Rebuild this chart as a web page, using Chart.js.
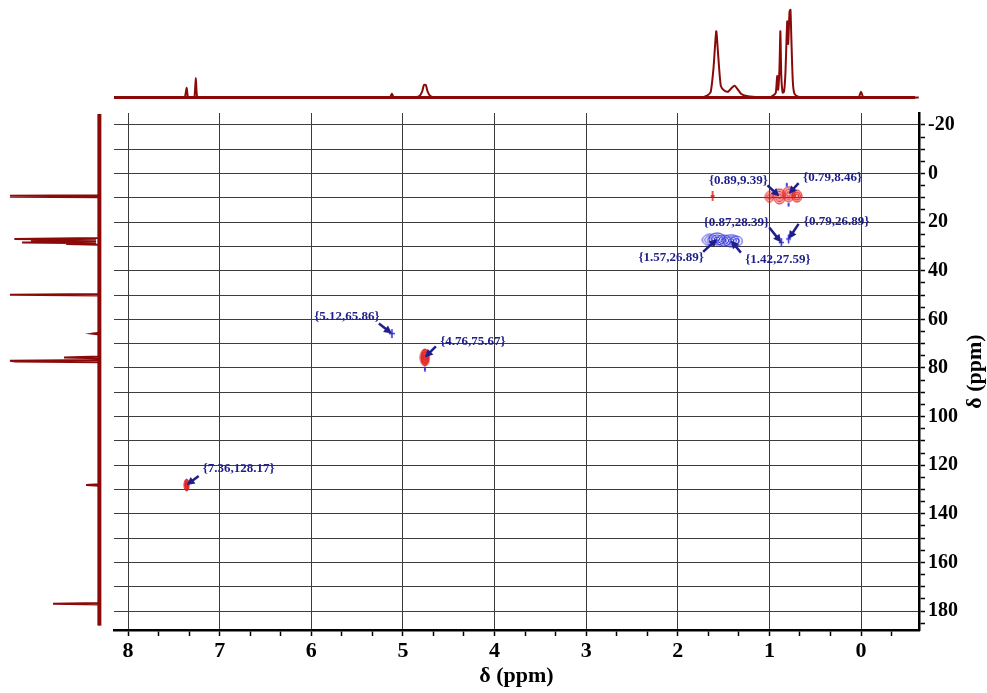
<!DOCTYPE html>
<html>
<head>
<meta charset="utf-8">
<script src="https://cdn.jsdelivr.net/npm/chart.js@4.4.1/dist/chart.umd.min.js"></script>
<style>
  html, body { margin: 0; padding: 0; background: #fff; }
  #wrap { position: relative; width: 987px; height: 693px; overflow: hidden; }
  canvas { position: absolute; }
  #hsqc { left: 0; top: 0; }
  #proj1h { left: 114px; top: 0; }
  #proj13c { left: 0; top: 113px; }
</style>
</head>
<body>
<div id="wrap">
  <canvas id="hsqc" width="987" height="693"></canvas>
  <canvas id="proj1h" width="805" height="100"></canvas>
  <canvas id="proj13c" width="106" height="517"></canvas>
</div>
<script>
// 1H projection (top trace)
const hShift = [8.15, 7.42, 7.38, 7.36, 7.345, 7.3, 7.275, 7.26, 7.245, 7.2,
  5.2, 5.14, 5.12, 5.1, 5.0,
  4.88, 4.82, 4.79, 4.77, 4.75, 4.73, 4.7, 4.64,
  1.75, 1.68, 1.64, 1.61, 1.58, 1.56, 1.53, 1.49, 1.45, 1.41, 1.38, 1.35, 1.31, 1.25, 1.15, 1.0,
  0.96, 0.93, 0.915, 0.905, 0.89, 0.88, 0.87, 0.855, 0.84, 0.825, 0.805, 0.795, 0.78, 0.77, 0.76, 0.745, 0.73, 0.7, 0.62,
  0.03, 0.0, -0.03, -0.63];
const hIntensity = [0, 0, 0.5, 10, 0.5, 0, 0.5, 20, 0.5, 0,
  0, 0.3, 4, 0.3, 0,
  0, 1.5, 6, 13, 13, 6, 1.5, 0,
  0, 2, 6, 30, 68, 45, 12, 7, 6, 10, 12, 9, 4, 1.5, 0.5, 0,
  2, 5, 22, 8, 30, 68, 22, 5, 6, 25, 78, 55, 88, 90, 60, 18, 5, 1.5, 0,
  0, 6, 0, 0];

// 13C projection (left trace)
const cShift = [-24.5, 8.9, 9.15, 9.35, 9.55, 9.8,
  26.5, 26.89, 27.2, 27.59, 27.9, 28.39, 28.7, 29.0, 29.3,
  49.6, 49.9, 50.2,
  65.5, 65.86, 66.2,
  75.3, 75.67, 76.0, 76.7, 77.0, 77.3, 77.6,
  127.8, 128.17, 128.5,
  176.7, 177.0, 177.3, 186];
const cIntensity = [0, 0, 81, 2, 81, 0,
  0, 77, 3, 62, 3, 70, 3, 30, 0,
  0, 81, 0,
  0, 6, 0,
  0, 32, 2, 2, 81, 76, 0,
  0, 12, 0,
  0, 42, 0, 0];

// labelled cross peaks {1H, 13C}
const peakH = [0.89, 0.79, 0.87, 0.79, 1.57, 1.42, 5.12, 4.76, 7.36];
const peakC = [9.39, 8.46, 28.39, 26.89, 26.89, 27.59, 65.86, 75.67, 128.17];

// contour centres, positive phase (CH / CH3)
const redH = [1.62, 1.0, 0.89, 0.79, 0.7, 4.76, 7.36];
const redC = [9.2, 9.6, 9.39, 8.46, 9.3, 75.67, 128.17];
// contour centres, negative phase (CH2)
const blueH = [1.65, 1.57, 1.5, 1.42, 1.36, 0.87, 0.79, 5.12, 4.76, 0.81, 0.79];
const blueC = [27.3, 26.89, 27.6, 27.59, 27.8, 28.39, 26.89, 65.86, 80.5, 4.6, 12.8];

// axis labels
const hTicks = [8, 7, 6, 5, 4, 3, 2, 1, 0];
const cTicks = [-20, 0, 20, 40, 60, 80, 100, 120, 140, 160, 180];

const H_MIN = -0.633;
const H_MAX = 8.153;
const C_MIN = -24.9;
const C_MAX = 187.8;

const SERIF = '"Liberation Serif", "Times New Roman", serif';
const NAVY = "#1f1f8c";
const TRACE = "#8a0a0a";

// contour marker shapes: [width, height, rings, fill]
const redShapes = [
  ["plus", 4, 10],
  [8, 11, 2, "rgba(235,60,60,0.35)"],
  [12, 15, 3, "rgba(235,60,60,0.35)"],
  [12, 15, 3, "rgba(235,60,60,0.35)"],
  [10, 12, 3, "rgba(235,60,60,0.35)"],
  [9, 17, 3, "rgba(225,30,30,0.85)"],
  [5, 12, 2, "rgba(225,30,30,0.9)"],
];
const blueShapes = [
  [15, 11, 3, null],
  [16, 12, 3, null],
  [15, 11, 3, null],
  [16, 12, 3, null],
  [12, 10, 2, null],
  ["plus", 5, 9],
  ["plus", 5, 9],
  ["plus", 6, 9],
  ["plus", 2, 5],
  ["plus", 2, 4],
  ["plus", 2, 4],
];

// callout geometry in px, relative to the peak: arrow tail, text centre
const calloutTail = [[-12, -11], [10, -11], [-12, -15], [10, -15], [-14, 13], [10, 12], [-13, -10], [11, -11], [12, -9]];
const calloutText = [[-41, -16], [44, -16], [-45, -20], [48, -17], [-46, 19], [47, 19], [-45, -17], [48, -16], [52, -16]];

function ellipseMark(w, h, rings, color, fill) {
  const c = document.createElement("canvas");
  c.width = Math.ceil(w) + 2;
  c.height = Math.ceil(h) + 2;
  const g = c.getContext("2d");
  const cx = c.width / 2;
  const cy = c.height / 2;
  if (fill) {
    g.fillStyle = fill;
    g.beginPath();
    g.ellipse(cx, cy, w / 2, h / 2, 0, 0, Math.PI * 2);
    g.fill();
  }
  g.strokeStyle = color;
  g.lineWidth = 1;
  for (let i = 0; i < rings; i++) {
    const k = 1 - i / rings;
    g.beginPath();
    g.ellipse(cx, cy, (w / 2) * k, (h / 2) * k, 0, 0, Math.PI * 2);
    g.stroke();
  }
  return c;
}

function plusMark(w, h, color) {
  const c = document.createElement("canvas");
  c.width = w + 2;
  c.height = h + 2;
  const g = c.getContext("2d");
  g.strokeStyle = color;
  g.lineWidth = 1.5;
  g.beginPath();
  g.moveTo(c.width / 2, 1);
  g.lineTo(c.width / 2, c.height - 1);
  g.moveTo(1, c.height / 2);
  g.lineTo(c.width - 1, c.height / 2);
  g.stroke();
  return c;
}

const toMark = (shape, color) =>
  shape[0] === "plus"
    ? plusMark(shape[1], shape[2], color)
    : ellipseMark(shape[0], shape[1], shape[2], color, shape[3]);

const isWhole = (v) => Math.abs(v - Math.round(v)) < 1e-6;

const baseOptions = {
  animation: false,
  responsive: false,
  events: [],
  plugins: { legend: { display: false }, tooltip: { enabled: false } },
};

// arrows + "{H,C}" labels pointing at the cross peaks
const callouts = {
  id: "callouts",
  afterDatasetsDraw(chart) {
    const { ctx } = chart;
    const xs = chart.scales.x;
    const ys = chart.scales.y;
    ctx.save();
    ctx.strokeStyle = NAVY;
    ctx.fillStyle = NAVY;
    ctx.lineWidth = 2.5;
    ctx.font = `bold 13px ${SERIF}`;
    ctx.textAlign = "center";
    ctx.textBaseline = "middle";
    peakH.forEach((h, i) => {
      const tx = xs.getPixelForValue(h);
      const ty = ys.getPixelForValue(peakC[i]);
      const sx = tx + calloutTail[i][0];
      const sy = ty + calloutTail[i][1];
      const a = Math.atan2(ty - sy, tx - sx);
      const cos = Math.cos(a);
      const sin = Math.sin(a);
      ctx.beginPath();
      ctx.moveTo(sx, sy);
      ctx.lineTo(tx - 5 * cos, ty - 5 * sin);
      ctx.stroke();
      ctx.beginPath();
      ctx.moveTo(tx, ty);
      ctx.lineTo(tx - 8 * cos - 4 * sin, ty - 8 * sin + 4 * cos);
      ctx.lineTo(tx - 8 * cos + 4 * sin, ty - 8 * sin - 4 * cos);
      ctx.closePath();
      ctx.fill();
      const label = `{${h.toFixed(2)},${peakC[i].toFixed(2)}}`;
      ctx.fillText(label, tx + calloutText[i][0], ty + calloutText[i][1]);
    });
    ctx.restore();
  },
};

// the right-hand axis title reads bottom-to-top
const rightTitle = {
  id: "rightTitle",
  afterDraw(chart) {
    const { ctx, chartArea } = chart;
    ctx.save();
    ctx.translate(975, (chartArea.top + chartArea.bottom) / 2);
    ctx.rotate(-Math.PI / 2);
    ctx.font = `bold 22px ${SERIF}`;
    ctx.fillStyle = "#000";
    ctx.textAlign = "center";
    ctx.textBaseline = "middle";
    ctx.fillText("δ (ppm)", 0, 0);
    ctx.restore();
  },
};

new Chart(document.getElementById("hsqc"), {
  type: "scatter",
  data: {
    datasets: [
      {
        label: "CH2",
        data: blueH.map((h, i) => ({ x: h, y: blueC[i] })),
        pointStyle: blueShapes.map((s) => toMark(s, "#3030d8")),
        pointRadius: 5,
      },
      {
        label: "CH/CH3",
        data: redH.map((h, i) => ({ x: h, y: redC[i] })),
        pointStyle: redShapes.map((s) => toMark(s, "#e01818")),
        pointRadius: 5,
      },
    ],
  },
  options: {
    ...baseOptions,
    layout: { padding: { left: 114, top: 113, right: 0, bottom: 0 } },
    scales: {
      x: {
        type: "linear",
        position: "bottom",
        reverse: true,
        min: H_MIN,
        max: H_MAX,
        afterBuildTicks: (scale) => {
          const ticks = [];
          for (let k = 24; k >= -1; k--) ticks.push({ value: k / 3 });
          scale.ticks = ticks;
        },
        afterFit: (scale) => {
          scale.height = 63;
        },
        ticks: {
          autoSkip: false,
          maxRotation: 0,
          padding: 2,
          color: "#000",
          font: { family: SERIF, size: 22, weight: "bold" },
          callback: (v) => (isWhole(v) && hTicks.includes(Math.round(v)) ? String(Math.round(v)) : ""),
        },
        grid: {
          color: (ctx) => (ctx.tick && isWhole(ctx.tick.value) ? "#3c3c3c" : "rgba(0,0,0,0)"),
          tickColor: "#000",
          tickLength: 6,
          tickWidth: 1.5,
          lineWidth: 1,
        },
        border: { display: true, color: "#000", width: 2.5 },
        title: {
          display: true,
          text: "δ (ppm)",
          color: "#000",
          font: { family: SERIF, size: 22, weight: "bold" },
          padding: { top: 0, bottom: 3 },
        },
      },
      y: {
        type: "linear",
        position: "right",
        reverse: true,
        min: C_MIN,
        max: C_MAX,
        afterBuildTicks: (scale) => {
          const ticks = [];
          for (let v = -20; v <= 185; v += 5) ticks.push({ value: v });
          scale.ticks = ticks;
        },
        afterFit: (scale) => {
          scale.width = 68;
        },
        ticks: {
          autoSkip: false,
          padding: 3,
          color: "#000",
          font: { family: SERIF, size: 20, weight: "bold" },
          callback: (v) => (cTicks.includes(v) ? String(v) : ""),
        },
        grid: {
          color: (ctx) => (ctx.tick && ctx.tick.value % 10 === 0 ? "#3c3c3c" : "rgba(0,0,0,0)"),
          tickColor: "#000",
          tickLength: 6,
          tickWidth: 1.5,
          lineWidth: 1,
        },
        border: { display: true, color: "#000", width: 2.5 },
      },
    },
  },
  plugins: [callouts, rightTitle],
});

// 1H trace across the top
new Chart(document.getElementById("proj1h"), {
  type: "scatter",
  data: {
    datasets: [
      {
        data: [{ x: H_MAX, y: 0 }, { x: -0.59, y: 0 }],
        showLine: true,
        borderColor: TRACE,
        borderWidth: 3,
        pointRadius: 0,
      },
      {
        data: hShift.map((s, i) => ({ x: s, y: hIntensity[i] })),
        showLine: true,
        borderColor: TRACE,
        borderWidth: 2,
        pointRadius: 0,
        tension: 0.2,
      },
    ],
  },
  options: {
    ...baseOptions,
    layout: { padding: 0 },
    scales: {
      x: { display: false, reverse: true, min: H_MIN, max: H_MAX },
      y: { display: false, min: -2.5, max: 100 },
    },
  },
});

// 13C trace down the left side
new Chart(document.getElementById("proj13c"), {
  type: "scatter",
  data: {
    datasets: [
      {
        data: [{ x: 0, y: -24.5 }, { x: 0, y: 186 }],
        showLine: true,
        borderColor: TRACE,
        borderWidth: 4,
        pointRadius: 0,
      },
      {
        data: cShift.map((s, i) => ({ x: cIntensity[i], y: s })),
        showLine: true,
        borderColor: TRACE,
        borderWidth: 2,
        pointRadius: 0,
      },
    ],
  },
  options: {
    ...baseOptions,
    layout: { padding: 0 },
    scales: {
      x: { display: false, reverse: true, min: -6, max: 90 },
      y: { display: false, reverse: true, min: C_MIN, max: C_MAX },
    },
  },
});
</script>
</body>
</html>
